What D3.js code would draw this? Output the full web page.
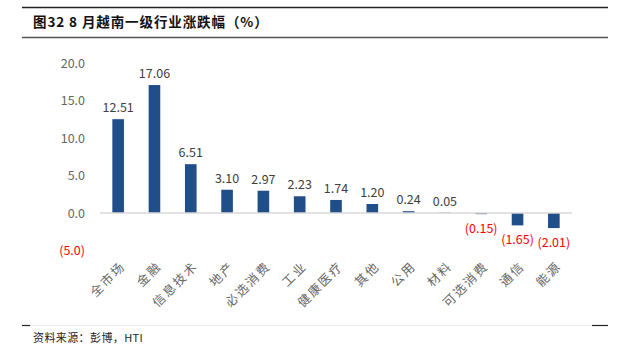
<!DOCTYPE html>
<html>
<head>
<meta charset="utf-8">
<script src="https://cdn.jsdelivr.net/npm/d3@7"></script>
<style>
  body { margin: 0; background: #fff; }
  svg { display: block; }
</style>
</head>
<body>
<div class="chart-container"></div>
<script>
// categories + values
const sectors = ["全市场", "金融", "信息技术", "地产", "必选消费", "工业", "健康医疗", "其他", "公用", "材料", "可选消费", "通信", "能源"];
const changes = [12.51, 17.06, 6.51, 3.10, 2.97, 2.23, 1.74, 1.20, 0.24, 0.05, -0.15, -1.65, -2.01];
const yTicks = [-5, 0, 5, 10, 15, 20];

const W = 626, H = 351;
const font = "'Noto Sans CJK SC', 'Noto Sans', sans-serif";

const svg = d3.select(".chart-container")
  .append("svg")
    .attr("width", W)
    .attr("height", H);

// header / footer rules
svg.append("line").attr("x1", 22).attr("x2", 608).attr("y1", 7.5).attr("y2", 7.5)
  .attr("stroke", "#222").attr("stroke-width", 1.5);
svg.append("line").attr("x1", 22).attr("x2", 608).attr("y1", 37.5).attr("y2", 37.5)
  .attr("stroke", "#555").attr("stroke-width", 1.5);
svg.append("line").attr("x1", 22).attr("x2", 608).attr("y1", 325.5).attr("y2", 325.5)
  .attr("stroke", "#eee").attr("stroke-width", 1);
svg.append("line").attr("x1", 22).attr("x2", 30).attr("y1", 325.5).attr("y2", 325.5)
  .attr("stroke", "#222").attr("stroke-width", 1.2);
svg.append("line").attr("x1", 592).attr("x2", 608).attr("y1", 325.5).attr("y2", 325.5)
  .attr("stroke", "#222").attr("stroke-width", 1.2);

svg.append("text")
  .attr("x", 33).attr("y", 27)
  .attr("font-family", font).attr("font-size", 13.5).attr("font-weight", "bold")
  .attr("letter-spacing", 0.9)
  .attr("fill", "#111")
  .text("图32 8 月越南一级行业涨跌幅（%）");

svg.append("text")
  .attr("x", 33).attr("y", 342)
  .attr("font-family", font).attr("font-size", 11)
  .attr("letter-spacing", 0.4)
  .attr("fill", "#222")
  .text("资料来源：彭博，HTI");

// scales
const x = d3.scaleBand().domain(sectors).range([100, 572]).paddingInner(0.68).paddingOuter(0.34);
const y = d3.scaleLinear().domain([-5, 20]).range([250.5, 63]);

const fmt = v => v < 0 ? `(${d3.format(".2f")(-v)})` : d3.format(".2f")(v);
const fmtTick = v => v < 0 ? `(${d3.format(".1f")(-v)})` : d3.format(".1f")(v);

// y axis (labels only)
const gY = svg.append("g")
  .attr("transform", "translate(85,0)")
  .call(d3.axisLeft(y).tickValues(yTicks).tickFormat(fmtTick).tickSize(0).tickPadding(0));
gY.select(".domain").remove();
gY.selectAll("text")
  .attr("font-family", font).attr("font-size", 12.5)
  .attr("fill", d => d < 0 ? "#ff0000" : "#666");

// bars
svg.selectAll("rect.bar")
  .data(changes)
  .join("rect")
    .attr("class", "bar")
    .attr("x", (d, i) => x(sectors[i]))
    .attr("y", d => y(Math.max(0, d)))
    .attr("width", x.bandwidth())
    .attr("height", d => Math.abs(y(d) - y(0)))
    .attr("fill", "#1f4e89");

// zero line
svg.append("line")
  .attr("x1", 100).attr("x2", 572)
  .attr("y1", y(0)).attr("y2", y(0))
  .attr("stroke", "#d9d9d9").attr("stroke-width", 1.5);

// value labels
svg.selectAll("text.val")
  .data(changes)
  .join("text")
    .attr("class", "val")
    .attr("x", (d, i) => x(sectors[i]) + x.bandwidth() / 2)
    .attr("y", d => d >= 0 ? y(d) - 7 : y(d) + 19)
    .attr("text-anchor", "middle")
    .attr("font-family", font).attr("font-size", 12.5)
    .attr("fill", d => d < 0 ? "#ff0000" : "#404040")
    .text(fmt);

// rotated category labels
svg.selectAll("text.cat")
  .data(sectors)
  .join("text")
    .attr("class", "cat")
    .attr("transform", d => `translate(${x(d) + x.bandwidth() / 2 + 5},${264}) rotate(-45)`)
    .attr("text-anchor", "end")
    .attr("dy", "0.35em")
    .attr("font-family", font).attr("font-size", 12.5)
    .attr("letter-spacing", 2)
    .attr("fill", "#666")
    .text(d => d);
</script>
</body>
</html>
